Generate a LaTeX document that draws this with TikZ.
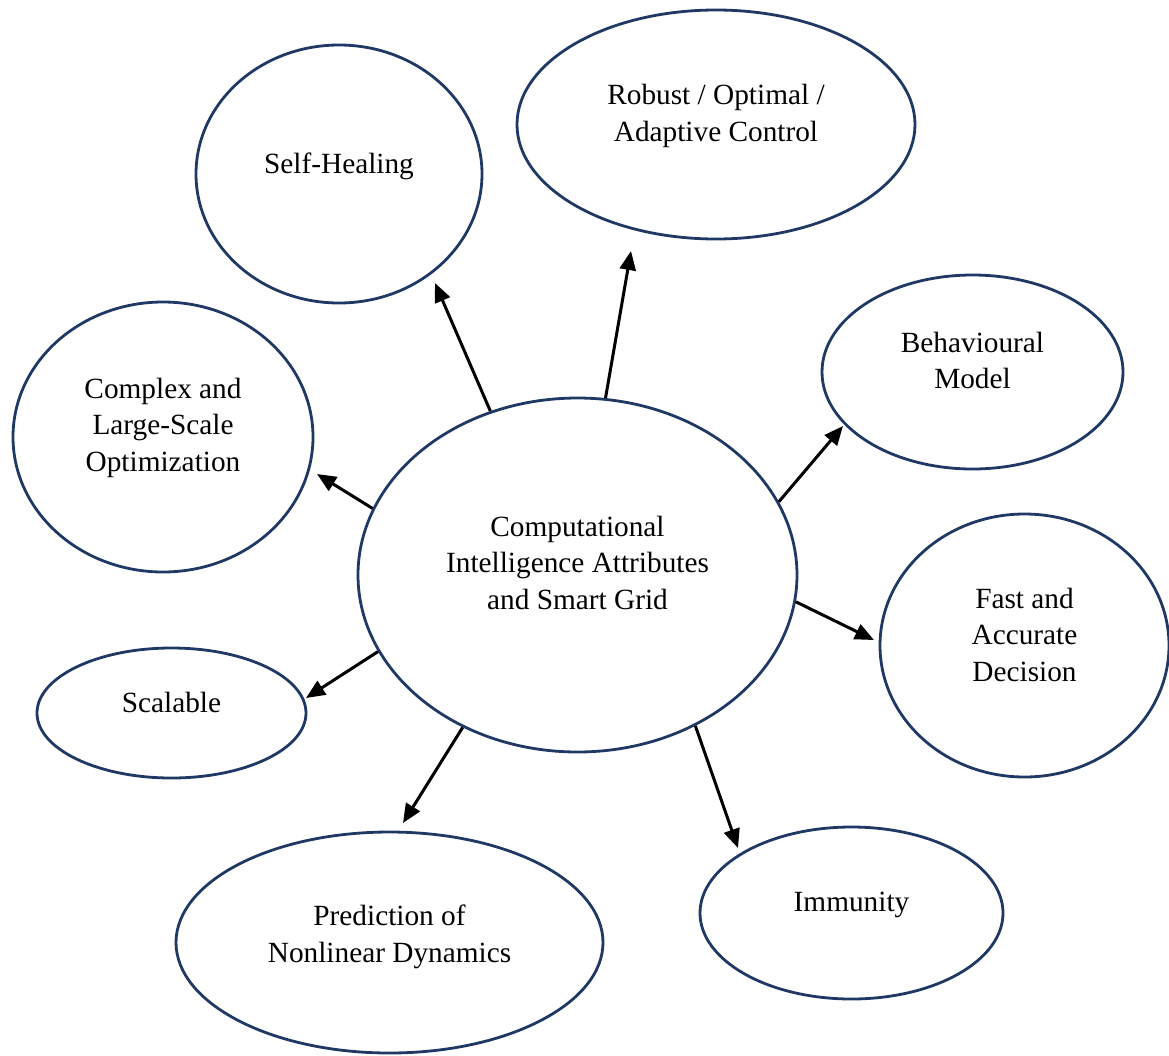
\documentclass[tikz,border=0pt]{standalone}
\usepackage{fontspec}
\setmainfont{Liberation Serif}
\usetikzlibrary{shapes.geometric,arrows.meta}
\definecolor{ellcol}{RGB}{31,56,100}
\tikzset{
  ell/.style={ellipse, draw=ellcol, line width=2.8pt, inner sep=0pt, fill=none},
  lbl/.style={font=\fontsize{29.3}{36.5}\selectfont, align=center, inner sep=0pt, text=black},
  arr/.style={draw=black, line width=3pt, -{Triangle[length=19pt,width=16pt]}}
}
\begin{document}
\begin{tikzpicture}[x=1pt,y=-1pt]
\useasboundingbox (0,0) rectangle (1169,1055);
% ellipses
\node[ell, minimum width=439pt, minimum height=354pt] (c)  at (577.5,575) {};
\node[ell, minimum width=286pt, minimum height=258pt] (sh) at (339,174) {};
\node[ell, minimum width=398pt, minimum height=229pt] (rb) at (716,124.5) {};
\node[ell, minimum width=301pt, minimum height=194pt] (bm) at (972.5,372) {};
\node[ell, minimum width=300pt, minimum height=270pt] (co) at (163,437) {};
\node[ell, minimum width=289pt, minimum height=263pt] (fa) at (1024.5,645.5) {};
\node[ell, minimum width=269pt, minimum height=130pt] (sc) at (171.5,713) {};
\node[ell, minimum width=427pt, minimum height=221pt] (pr) at (389.5,942.5) {};
\node[ell, minimum width=303pt, minimum height=172pt] (im) at (851.5,913) {};
% texts
\node[lbl] (c-t)  at (577.5,562.5) {Computational\\Intelligence Attributes\\and Smart Grid};
\node[lbl, anchor=base] (sh-t) at (339,173) {Self-Healing};
\node[lbl] (rb-t) at (716,116) {Robust / Optimal /\\Adaptive Control};
\node[lbl] (bm-t) at (972.5,360.5) {Behavioural\\Model};
\node[lbl] (co-t) at (163,427.7) {Complex and\\Large-Scale\\Optimization};
\node[lbl] (fa-t) at (1024.5,634.5) {Fast and\\Accurate\\Decision};
\node[lbl, anchor=base] (sc-t) at (171.5,712) {Scalable};
\node[lbl] (pr-t) at (389.5,936.7) {Prediction of\\Nonlinear Dynamics};
\node[lbl, anchor=base] (im-t) at (851.5,911) {Immunity};
% arrow tips
\coordinate (tsh) at (435,283);
\coordinate (trb) at (631,251);
\coordinate (tbm) at (843,426);
\coordinate (tco) at (317,474);
\coordinate (tfa) at (874,640);
\coordinate (tsc) at (306,698);
\coordinate (tpr) at (403,823);
\coordinate (tim) at (738,848);
% connectors
\draw[arr] (c.118.9) -- (tsh);
\draw[arr] (c.81.8) -- (trb);
\draw[arr] (c.20.9) -- (tbm);
\draw[arr] (c.162) -- (tco);
\draw[arr] (c.-7.9) -- (tfa);
\draw[arr] (c.201.8) -- (tsc);
\draw[arr] (c.233) -- (tpr);
\draw[arr] (c.308.3) -- (tim);
\end{tikzpicture}
\end{document}
